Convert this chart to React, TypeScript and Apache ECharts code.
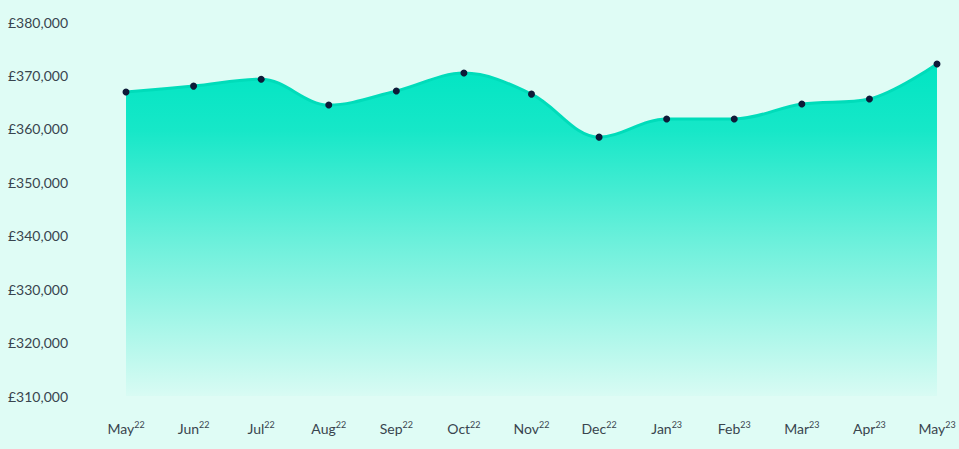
import { useEffect, useRef } from 'react';
import * as echarts from 'echarts';

// month / year suffix shown as superscript
const months = ['May', 'Jun', 'Jul', 'Aug', 'Sep', 'Oct', 'Nov', 'Dec', 'Jan', 'Feb', 'Mar', 'Apr', 'May'];
const years = ['22', '22', '22', '22', '22', '22', '22', '22', '23', '23', '23', '23', '23'];
const prices = [366900, 368000, 369300, 364450, 367100, 370450, 366500, 358450, 361850, 361850, 364650, 365600, 372150];

const categories = months.map((m, i) => `${m}${years[i]}`);

const BG = '#dffcf5';
const TEAL = '#00e5c3';
const TEXT = '#39454e';

export default function App() {
  const chartRef = useRef<HTMLDivElement | null>(null);

  useEffect(() => {
    document.body.style.margin = '0';
    if (!chartRef.current) return undefined;
    const chart = echarts.init(chartRef.current, undefined, { renderer: 'svg' });

    chart.setOption({
      animation: false,
      backgroundColor: BG,
      grid: { left: 126, right: 22, top: 22, bottom: 53 },
      xAxis: {
        type: 'category',
        data: categories,
        boundaryGap: false,
        axisLine: { show: false },
        axisTick: { show: false },
        axisLabel: {
          interval: 0,
          margin: 21,
          formatter: (_v: string, i: number) => `{m|${months[i]}}{s|${years[i]}}`,
          rich: {
            m: { fontFamily: 'Lato', fontSize: 14, color: TEXT, lineHeight: 18, verticalAlign: 'bottom' },
            s: { fontFamily: 'Lato', fontSize: 9, color: TEXT, lineHeight: 11, verticalAlign: 'top', padding: [3, 0, 0, 0] },
          },
        },
        splitLine: { show: false },
      },
      yAxis: {
        type: 'value',
        min: 310000,
        max: 380000,
        interval: 10000,
        axisLine: { show: false },
        axisTick: { show: false },
        splitLine: { show: false },
        axisLabel: {
          align: 'left',
          margin: 118,
          fontFamily: 'Lato',
          fontSize: 14,
          color: TEXT,
          formatter: (v: number) => `£${v.toLocaleString('en-GB')}`,
        },
      },
      series: [
        {
          type: 'line',
          data: prices,
          smooth: 0.35,
          symbol: 'circle',
          symbolSize: 7,
          showSymbol: true,
          lineStyle: { color: '#00dcba', width: 3 },
          itemStyle: { color: '#0e1a38', borderWidth: 0 },
          areaStyle: {
            origin: 'start',
            opacity: 1,
            color: {
              type: 'linear',
              x: 0,
              y: 0,
              x2: 0,
              y2: 1,
              colorStops: [
                { offset: 0, color: TEAL },
                { offset: 0.2, color: 'rgba(0,229,195,0.9)' },
                { offset: 0.55, color: 'rgba(0,229,195,0.5)' },
                { offset: 1, color: 'rgba(0,229,195,0.03)' },
              ],
            },
          },
          z: 2,
        },
      ],
    });

    return () => chart.dispose();
  }, []);

  return <div ref={chartRef} style={{ width: 959, height: 449 }} />;
}
